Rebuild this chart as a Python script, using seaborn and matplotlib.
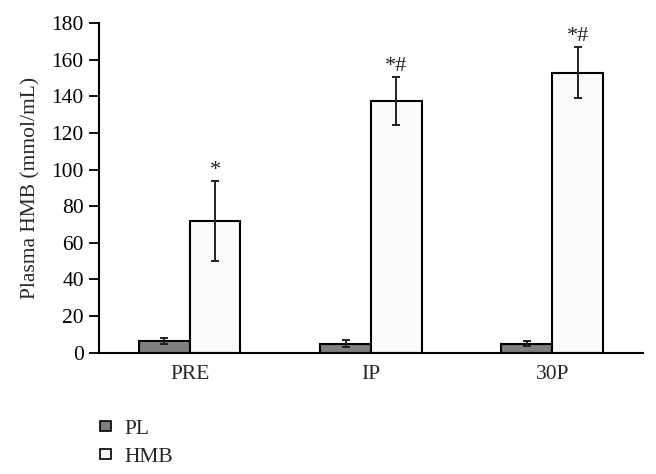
import matplotlib
matplotlib.use('Agg')
import matplotlib.pyplot as plt
import pandas as pd
import seaborn as sns
from matplotlib.patches import Patch

# Data
times = ['PRE', 'IP', '30P']
groups = ['PL', 'HMB']
pl_mean = [6.5, 5.0, 5.0]
pl_err = [1.5, 2.0, 1.5]
hmb_mean = [72.0, 137.5, 153.0]
hmb_err = [22.0, 13.0, 14.0]
hmb_marks = ['*', '*#', '*#']

colors = {'PL': '#7f7f7f', 'HMB': '#fafafa'}

df = pd.DataFrame({
    'time': times * 2,
    'group': ['PL'] * 3 + ['HMB'] * 3,
    'value': pl_mean + hmb_mean,
    'err': pl_err + hmb_err,
})

sns.set_style('white')
plt.rcParams['font.family'] = ['Liberation Serif', 'DejaVu Serif']

fig = plt.figure(figsize=(6.56, 4.74), dpi=100)
ax = fig.add_axes([0.151, 0.256, 0.829, 0.695])

sns.barplot(data=df, x='time', y='value', hue='group', order=times,
            hue_order=groups, palette=colors, width=0.56, edgecolor='black',
            linewidth=1.5, errorbar=None, legend=False, ax=ax)

# Error bars and significance marks from the bar patches
for patch, (_, row) in zip(ax.patches, df.iterrows()):
    x = patch.get_x() + patch.get_width() / 2
    h = patch.get_height()
    ax.errorbar(x, h, yerr=row['err'], color='#222222', capsize=3,
                elinewidth=1.4, capthick=1.4)

hmb_patches = ax.patches[3:6]
for patch, mark, e in zip(hmb_patches, hmb_marks, hmb_err):
    x = patch.get_x() + patch.get_width() / 2
    ax.text(x, patch.get_height() + e + 0.5, mark, ha='center', va='bottom',
            fontsize=16, color='#222222')

ax.set_xlim(-0.5, 2.5)
ax.set_ylim(0, 180)
ax.set_yticks(range(0, 181, 20))
ax.set_xlabel('')
ax.set_ylabel('Plasma HMB (mmol/mL)', fontsize=15.5, labelpad=8)
ax.tick_params(axis='y', direction='out', length=7, width=1.3, left=True,
               labelsize=15.5, pad=4, colors='black')
ax.tick_params(axis='x', length=0, labelsize=15.5, pad=9)
sns.despine(ax=ax)
for side in ['left', 'bottom']:
    ax.spines[side].set_color('black')
    ax.spines[side].set_linewidth(1.5)

handles = [Patch(facecolor=colors[g], edgecolor='black', linewidth=1.2,
                 label=g) for g in groups]
fig.legend(handles=handles, loc='upper left', bbox_to_anchor=(0.139, 0.132),
           frameon=False, fontsize=15.5, handlelength=0.5, handleheight=0.35,
           handletextpad=0.65, labelspacing=0.4, borderaxespad=0)

fig.savefig('out.png', dpi=100)
